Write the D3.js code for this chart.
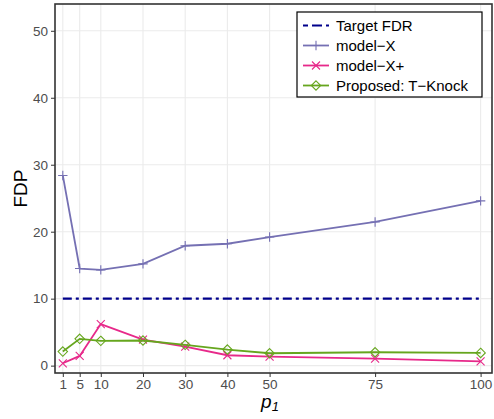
<!DOCTYPE html>
<html>
<head>
<meta charset="utf-8">
<script src="https://cdn.jsdelivr.net/npm/d3@7"></script>
<style>
    body { margin: 0; background: #fff; }
    svg text { font-family: "Liberation Sans", Arial, Helvetica, sans-serif; }
</style>
</head>
<body>
<svg id="fdpChart" width="494" height="419"></svg>
<script>
// p1 values on the x axis
var p1Values = [1, 5, 10, 20, 30, 40, 50, 75, 100];
var yTicks = [0, 10, 20, 30, 40, 50];
var targetFdr = 10;

var modelX = [28.4, 14.5, 14.3, 15.2, 17.9, 18.2, 19.2, 21.45, 24.6];
var modelXPlus = [0.35, 1.45, 6.2, 3.9, 2.85, 1.55, 1.35, 1.05, 0.65];
var tKnock = [2.1, 4.0, 3.7, 3.75, 3.1, 2.4, 1.85, 2.0, 1.9];

var seriesNames = ["Target FDR", "model\u2212X", "model\u2212X+", "Proposed: T\u2212Knock"];

drawChart = function () {
    var svg = d3.select("#fdpChart");
    var left = 55, right = 492, top = 4, bottom = 373;

    var x = d3.scaleLinear().domain([-0.85, 102.7]).range([left, right]);
    var y = d3.scaleLinear().domain([-1.1, 54]).range([bottom, top]);

    var series = [
        { name: seriesNames[1], values: modelX, color: "#7570B3", shape: "plus" },
        { name: seriesNames[2], values: modelXPlus, color: "#E7298A", shape: "cross" },
        { name: seriesNames[3], values: tKnock, color: "#66A61E", shape: "diamond" }
    ];

    // grid
    var grid = svg.append("g");
    grid.selectAll(".vg").data(p1Values).enter().append("line")
        .attr("x1", function (d) { return x(d); }).attr("x2", function (d) { return x(d); })
        .attr("y1", top).attr("y2", bottom)
        .attr("stroke", "#EBEBEB").attr("stroke-width", 1.1);
    grid.selectAll(".hg").data(yTicks).enter().append("line")
        .attr("y1", function (d) { return y(d); }).attr("y2", function (d) { return y(d); })
        .attr("x1", left).attr("x2", right)
        .attr("stroke", "#EBEBEB").attr("stroke-width", 1.1);

    // axes
    var xAxis = svg.append("g")
        .attr("transform", "translate(0," + bottom + ")")
        .call(d3.axisBottom(x).tickValues(p1Values).tickSize(4).tickPadding(2));
    var yAxis = svg.append("g")
        .attr("transform", "translate(" + left + ",0)")
        .call(d3.axisLeft(y).tickValues(yTicks).tickSize(4).tickPadding(3));
    [xAxis, yAxis].forEach(function (a) {
        a.select(".domain").remove();
        a.selectAll("line").attr("stroke", "#333333");
        a.selectAll("text").attr("fill", "#4D4D4D").style("font-size", "13.5px")
            .style("font-family", "Liberation Sans, Arial, sans-serif");
    });

    // target line
    svg.append("line")
        .attr("x1", x(1)).attr("x2", x(100))
        .attr("y1", y(targetFdr)).attr("y2", y(targetFdr))
        .attr("stroke", "#00008B").attr("stroke-width", 2.2)
        .attr("stroke-dasharray", "9,4,3,4");

    var line = d3.line()
        .x(function (d, i) { return x(p1Values[i]); })
        .y(function (d) { return y(d); });

    series.forEach(function (s) {
        svg.append("path")
            .datum(s.values)
            .attr("d", line)
            .attr("fill", "none")
            .attr("stroke", s.color)
            .attr("stroke-width", 1.8);
        svg.append("g").selectAll("path")
            .data(s.values)
            .enter()
            .append("path")
            .attr("transform", function (d, i) { return "translate(" + x(p1Values[i]) + "," + y(d) + ")"; })
            .attr("d", markerPath(s.shape, 4.7))
            .attr("fill", "none")
            .attr("stroke", s.color)
            .attr("stroke-width", 1.1);
    });

    // panel border
    svg.append("rect")
        .attr("x", left).attr("y", top)
        .attr("width", right - left).attr("height", bottom - top)
        .attr("fill", "none").attr("stroke", "#333333").attr("stroke-width", 1.6);

    // axis titles
    svg.append("text")
        .attr("transform", "translate(27," + ((top + bottom) / 2) + ")rotate(-90)")
        .attr("text-anchor", "middle")
        .style("font-size", "19px")
        .text("FDP");
    var xt = svg.append("text")
        .attr("x", 270).attr("y", 408)
        .attr("text-anchor", "middle")
        .style("font-size", "19px")
        .style("font-style", "italic");
    xt.append("tspan").text("p");
    xt.append("tspan").attr("dy", 3).style("font-size", "13px").text("1");

    // legend
    var lg = svg.append("g").attr("transform", "translate(297,12)");
    lg.append("rect").attr("width", 185).attr("height", 85)
        .attr("fill", "#fff").attr("stroke", "#000").attr("stroke-width", 1.2);
    var rows = [{ name: seriesNames[0], color: "#00008B", shape: null }].concat(series);
    rows.forEach(function (r, i) {
        var cy = 13.5 + i * 20;
        var ln = lg.append("line").attr("x1", 6).attr("x2", 32).attr("y1", cy).attr("y2", cy)
            .attr("stroke", r.color).attr("stroke-width", r.shape ? 1.8 : 2.2);
        if (!r.shape) ln.attr("stroke-dasharray", "5,4,10,4");
        else lg.append("path").attr("transform", "translate(19," + cy + ")")
            .attr("d", markerPath(r.shape, 4.7))
            .attr("fill", "none").attr("stroke", r.color).attr("stroke-width", 1.1);
        lg.append("text").attr("x", 39).attr("y", cy + 5.3)
            .style("font-size", "15px").text(r.name);
    });
}

function markerPath(shape, r) {
    if (shape === "plus") return "M" + -r + ",0H" + r + "M0," + -r + "V" + r;
    if (shape === "cross") { var c = r * 0.85; return "M" + -c + "," + -c + "L" + c + "," + c + "M" + -c + "," + c + "L" + c + "," + -c; }
    return "M0," + -r + "L" + r + ",0L0," + r + "L" + -r + ",0Z";
}

drawChart();
</script>
</body>
</html>
